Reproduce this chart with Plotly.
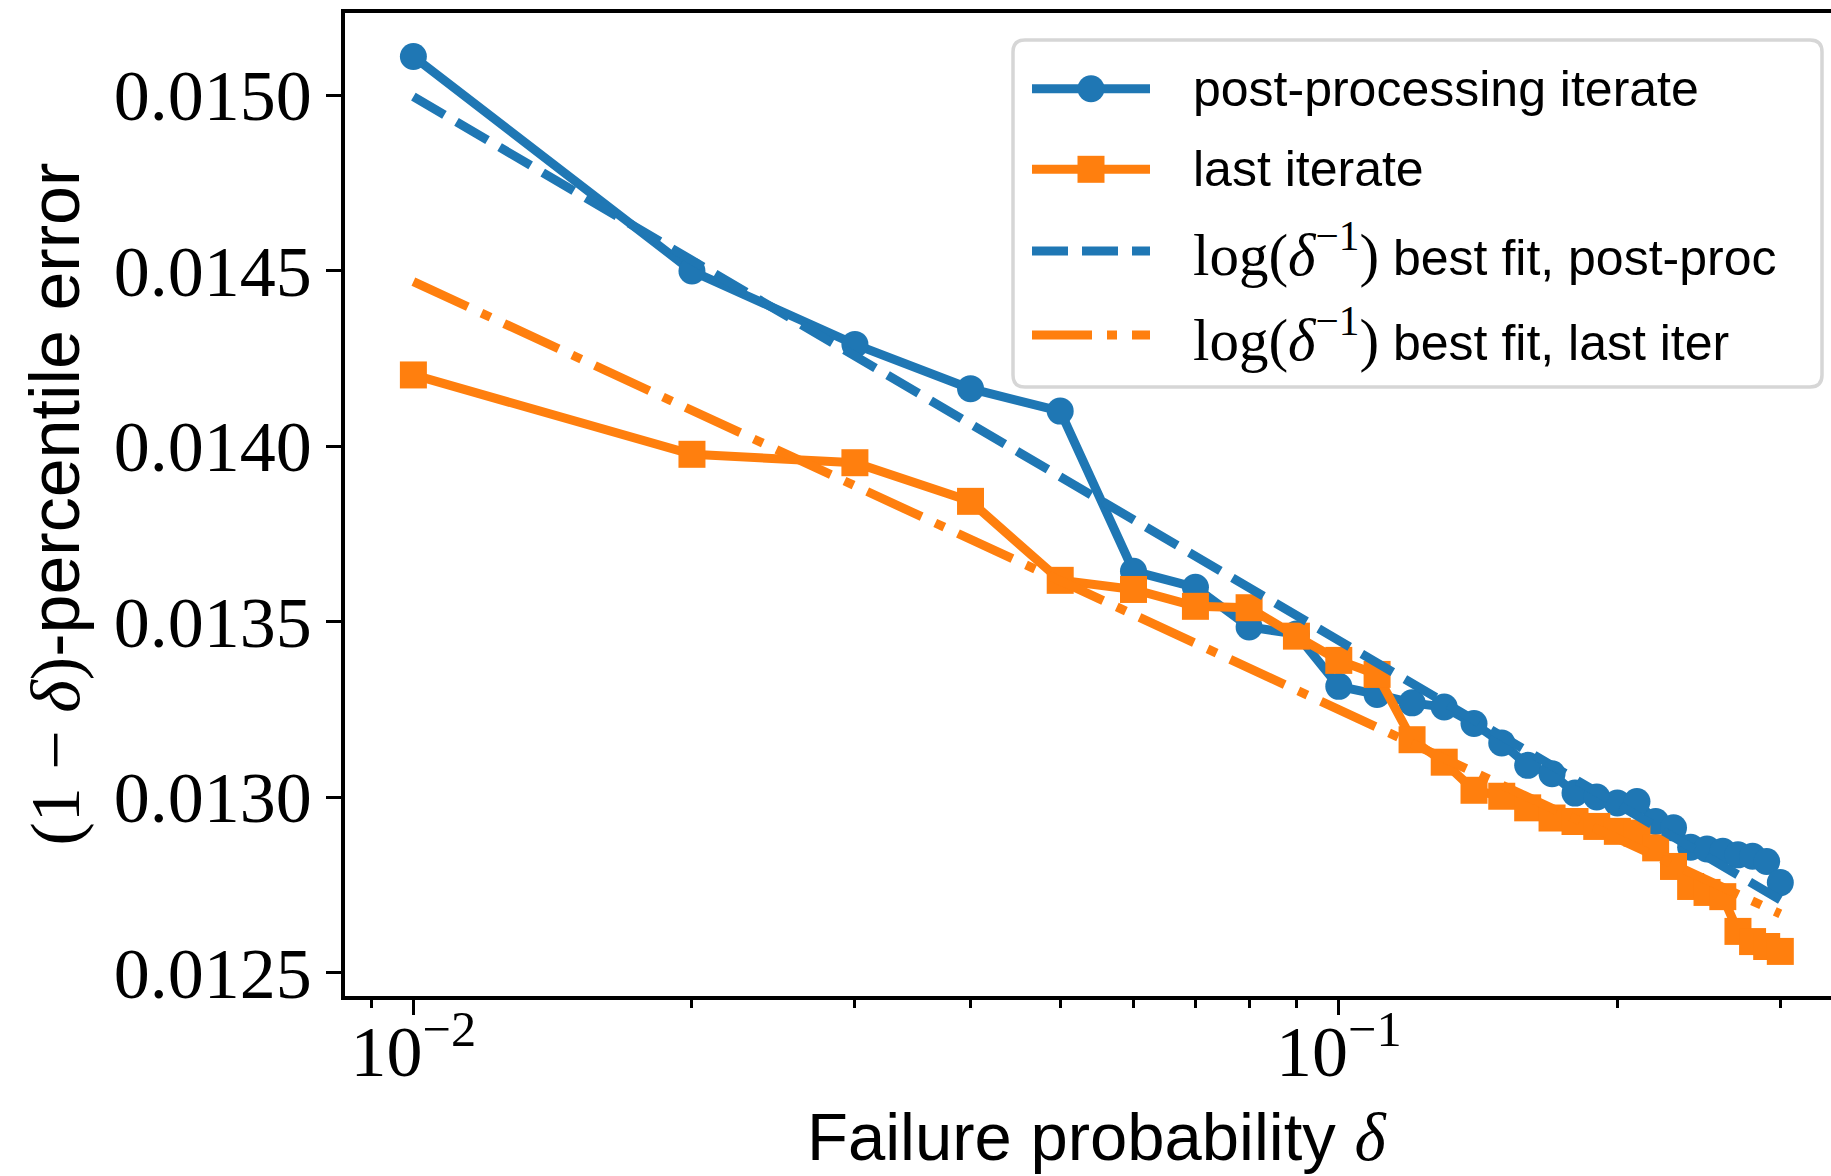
import plotly.graph_objects as go

# failure probability delta, 0.01 .. 0.30
delta = [0.01, 0.02, 0.03, 0.04, 0.05, 0.06, 0.07, 0.08, 0.09, 0.10,
         0.11, 0.12, 0.13, 0.14, 0.15, 0.16, 0.17, 0.18, 0.19, 0.20,
         0.21, 0.22, 0.23, 0.24, 0.25, 0.26, 0.27, 0.28, 0.29, 0.30]

post_proc = [0.015110, 0.014499, 0.014290, 0.014164, 0.014100, 0.013644, 0.013598, 0.013485, 0.013465, 0.013316,
             0.013293, 0.013269, 0.013257, 0.013210, 0.013155, 0.013091, 0.013067, 0.013012, 0.013001, 0.012984,
             0.012988, 0.012931, 0.012913, 0.012858, 0.012853, 0.012846, 0.012836, 0.012832, 0.012817, 0.012757]

last_iter = [0.014203, 0.013977, 0.013953, 0.013843, 0.013618, 0.013592, 0.013544, 0.013540, 0.013459, 0.013390,
             0.013350, 0.013164, 0.013100, 0.013020, 0.013003, 0.012970, 0.012941, 0.012931, 0.012917, 0.012903,
             0.012898, 0.012856, 0.012803, 0.012746, 0.012729, 0.012717, 0.012618, 0.012589, 0.012575, 0.012561]

# best-fit lines (straight in log(1/delta)), end values
fit_delta = [0.01, 0.30]
fit_post = [0.014996, 0.012708]
fit_last = [0.014469, 0.012668]

y_ticks = [0.0125, 0.0130, 0.0135, 0.0140, 0.0145, 0.0150]
x_ticks = [0.01, 0.1]
x_ticktext = ["10<sup>\u22122</sup>", "10<sup>\u22121</sup>"]
x_minor = [0.009, 0.02, 0.03, 0.04, 0.05, 0.06, 0.07, 0.08, 0.09, 0.2, 0.3]

BLUE = "#1f77b4"
ORANGE = "#ff7f0e"
LW = 9
DASH = "36px,14px"
DASHDOT = "60px,15px,10px,15px"
SERIF = "Liberation Serif"
SANS = "Liberation Sans"
LOG_INV = f'<span style="font-family:{SERIF};font-size:59px">log(<i>\u03b4</i><sup>\u22121</sup>)</span>'

series = [
    dict(x=delta, y=post_proc, color=BLUE, dash="solid", symbol="circle",
         name="post-processing iterate"),
    dict(x=delta, y=last_iter, color=ORANGE, dash="solid", symbol="square",
         name="last iterate"),
    dict(x=fit_delta, y=fit_post, color=BLUE, dash=DASH, symbol=None,
         name=LOG_INV + " best fit, post-proc"),
    dict(x=fit_delta, y=fit_last, color=ORANGE, dash=DASHDOT, symbol=None,
         name=LOG_INV + " best fit, last iter"),
]

fig = go.Figure()
for s in series:
    fig.add_trace(go.Scatter(
        x=s["x"], y=s["y"],
        mode="lines+markers" if s["symbol"] else "lines",
        line=dict(color=s["color"], width=LW, dash=s["dash"]),
        marker=dict(symbol=s["symbol"] or "circle", size=27, color=s["color"],
                    line=dict(width=0)),
        showlegend=False,
    ))

# hand-drawn legend box (matplotlib style)
L, R, T, B = 345, 1831, 13, 996
W, H = R - L, B - T
px = lambda xf: (xf - L) / W
py = lambda yf: (B - yf) / H

bx0, bx1, by0, by1 = px(1013), px(1822), py(387), py(40)
rx, ry = 12 / W, 12 / H
box_path = (f"M{bx0+rx},{by1} L{bx1-rx},{by1} Q{bx1},{by1} {bx1},{by1-ry} "
            f"L{bx1},{by0+ry} Q{bx1},{by0} {bx1-rx},{by0} L{bx0+rx},{by0} "
            f"Q{bx0},{by0} {bx0},{by0+ry} L{bx0},{by1-ry} Q{bx0},{by1} {bx0+rx},{by1} Z")
fig.add_shape(type="path", path=box_path, xref="paper", yref="paper",
              line=dict(color="#d6d6d6", width=3.5), fillcolor="rgba(255,255,255,0.8)")

row_y = [88.7, 169.3, 251, 335]
for s, yy in zip(series, row_y):
    fig.add_shape(type="line", xref="paper", yref="paper",
                  x0=px(1032), x1=px(1150), y0=py(yy), y1=py(yy),
                  line=dict(color=s["color"], width=LW, dash=s["dash"]))
    if s["symbol"]:
        fig.add_shape(type="circle" if s["symbol"] == "circle" else "rect",
                      xref="paper", yref="paper", xsizemode="pixel", ysizemode="pixel",
                      xanchor=px(1091), yanchor=py(yy), x0=-13.5, x1=13.5, y0=-13.5, y1=13.5,
                      fillcolor=s["color"], line=dict(width=0))
    fig.add_annotation(x=px(1191), y=py(yy), xref="paper", yref="paper",
                       xanchor="left", yanchor="middle", showarrow=False,
                       text=s["name"], font=dict(family=SANS, size=50, color="black"))

# axis titles
fig.add_annotation(x=px(1097), y=py(1136), xref="paper", yref="paper",
                   xanchor="center", yanchor="middle", showarrow=False,
                   text=f'Failure probability <span style="font-family:{SERIF}"><i>\u03b4</i></span>',
                   font=dict(family=SANS, size=67, color="black"))
fig.add_annotation(x=px(54), y=0.5, xref="paper", yref="paper", textangle=-90,
                   xanchor="center", yanchor="middle", showarrow=False,
                   text=f'<span style="font-family:{SERIF}">(1 \u2212 <i>\u03b4</i>)</span>-percentile error',
                   font=dict(family=SANS, size=70, color="black"))

fig.update_layout(
    width=1831, height=1176,
    margin=dict(l=L, r=0, t=T, b=1176 - B),
    paper_bgcolor="white", plot_bgcolor="white",
    showlegend=False,
    xaxis=dict(
        type="log", range=[-2.0739, -0.4681],
        tickmode="array", tickvals=x_ticks, ticktext=x_ticktext,
        tickfont=dict(family=SERIF, size=72, color="black"),
        ticks="outside", ticklen=15, tickwidth=3, tickcolor="black",
        ticklabelstandoff=-25,
        minor=dict(tickmode="array", tickvals=x_minor, ticks="outside",
                   ticklen=8, tickwidth=2.5, tickcolor="black", showgrid=False),
        showline=True, linecolor="black", linewidth=3.5, mirror=True,
        showgrid=False, zeroline=False, automargin=False,
    ),
    yaxis=dict(
        range=[0.012434, 0.015234],
        tickmode="array", tickvals=y_ticks, tickformat=".4f",
        tickfont=dict(family=SERIF, size=72, color="black"),
        ticks="outside", ticklen=15, tickwidth=3, tickcolor="black",
        showline=True, linecolor="black", linewidth=3.5,
        showgrid=False, zeroline=False, automargin=False,
    ),
)

fig.write_html("out.html", config={"displayModeBar": False},
               post_script="document.body.style.margin='0';")
